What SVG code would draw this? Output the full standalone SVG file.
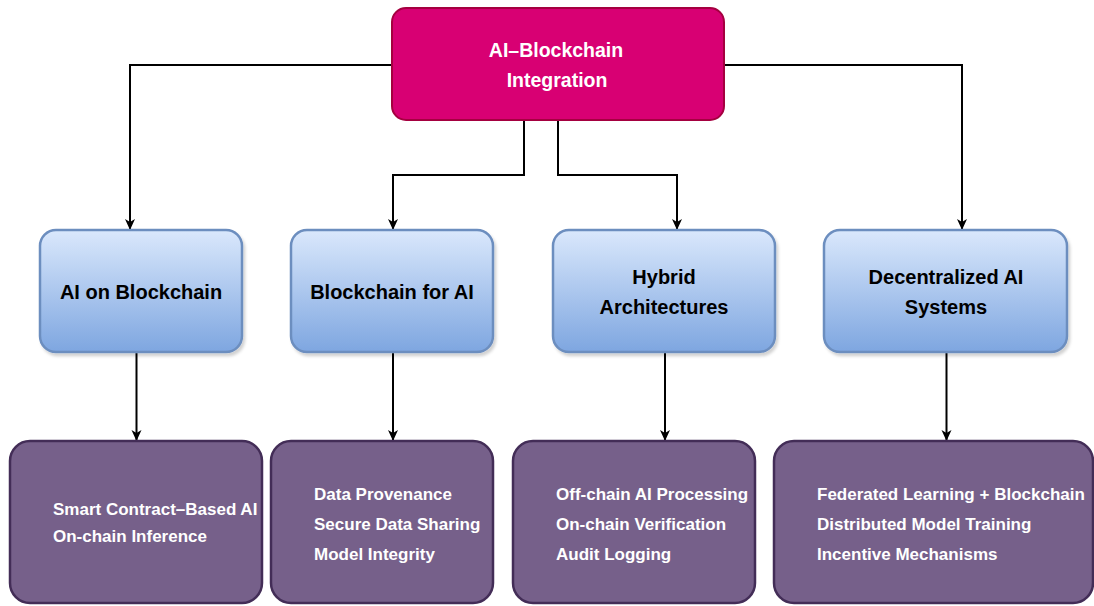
<svg xmlns="http://www.w3.org/2000/svg" width="1094" height="606" viewBox="0 0 1094 606">
<defs>
<linearGradient id="blueGrad" x1="0" y1="0" x2="0" y2="1">
<stop offset="0" stop-color="#dae8fc"/>
<stop offset="1" stop-color="#7ea6e0"/>
</linearGradient>
<marker id="arrow" markerWidth="12" markerHeight="12" refX="10" refY="6" orient="auto" markerUnits="userSpaceOnUse">
<path d="M0,1 L11,6 L0,11 L3,6 Z" fill="#000"/>
</marker>
<filter id="shadow" x="-10%" y="-10%" width="130%" height="130%">
<feDropShadow dx="2" dy="3" stdDeviation="1.5" flood-color="#000" flood-opacity="0.18"/>
</filter>
</defs>
<style>
.top{fill:#d80073;stroke:#a50040;stroke-width:2}
.mid{fill:url(#blueGrad);stroke:#6c8ebf;stroke-width:2.5}
.bot{fill:#76608a;stroke:#432d57;stroke-width:2.5}
.t{font-family:"Liberation Sans",Arial,sans-serif;font-weight:bold}
.tw{fill:#ffffff;font-size:19.5px;text-anchor:middle}
.tb{fill:#000000;font-size:20px;text-anchor:middle}
.tl{fill:#ffffff;font-size:17px}
.edge{fill:none;stroke:#000;stroke-width:2;marker-end:url(#arrow)}
</style>
<g id="connectors">
<path class="edge" d="M392,65 H130 V229"/>
<path class="edge" d="M724,65 H962 V229"/>
<path class="edge" d="M524,120 V175 H393 V229"/>
<path class="edge" d="M558,120 V175 H677 V229"/>
<path class="edge" d="M136.5,352 V440"/>
<path class="edge" d="M393,352 V440"/>
<path class="edge" d="M665,352 V440"/>
<path class="edge" d="M946.5,352 V440"/>
</g>
<g id="root">
<rect class="top" x="392" y="8" width="332" height="112" rx="14"/>
<text class="t tw" x="556" y="57">AI–Blockchain</text>
<text class="t tw" x="557" y="87">Integration</text>
</g>
<g id="ai-on-blockchain">
<rect class="mid" x="40" y="230" width="202" height="122" rx="16" filter="url(#shadow)"/>
<text class="t tb" x="141" y="299">AI on Blockchain</text>
</g>
<g id="blockchain-for-ai">
<rect class="mid" x="291" y="230" width="202" height="122" rx="16" filter="url(#shadow)"/>
<text class="t tb" x="392" y="299">Blockchain for AI</text>
</g>
<g id="hybrid-architectures">
<rect class="mid" x="553" y="230" width="222" height="122" rx="16" filter="url(#shadow)"/>
<text class="t tb" x="664" y="284">Hybrid</text>
<text class="t tb" x="664" y="314">Architectures</text>
</g>
<g id="decentralized-ai">
<rect class="mid" x="824" y="230" width="243" height="122" rx="16" filter="url(#shadow)"/>
<text class="t tb" x="946" y="284">Decentralized AI</text>
<text class="t tb" x="946" y="314">Systems</text>
</g>
<g id="ai-on-blockchain-details">
<rect class="bot" x="10" y="441" width="252" height="162" rx="20"/>
<text class="t tl" x="53" y="515">Smart Contract–Based AI</text>
<text class="t tl" x="53" y="542">On-chain Inference</text>
</g>
<g id="blockchain-for-ai-details">
<rect class="bot" x="271" y="441" width="222" height="162" rx="20"/>
<text class="t tl" x="314" y="500">Data Provenance</text>
<text class="t tl" x="314" y="530">Secure Data Sharing</text>
<text class="t tl" x="314" y="560">Model Integrity</text>
</g>
<g id="hybrid-details">
<rect class="bot" x="513" y="441" width="242" height="162" rx="20"/>
<text class="t tl" x="556" y="500">Off-chain AI Processing</text>
<text class="t tl" x="556" y="530">On-chain Verification</text>
<text class="t tl" x="556" y="560">Audit Logging</text>
</g>
<g id="decentralized-details">
<rect class="bot" x="774" y="441" width="319" height="162" rx="20"/>
<text class="t tl" x="817" y="500">Federated Learning + Blockchain</text>
<text class="t tl" x="817" y="530">Distributed Model Training</text>
<text class="t tl" x="817" y="560">Incentive Mechanisms</text>
</g>
</svg>
